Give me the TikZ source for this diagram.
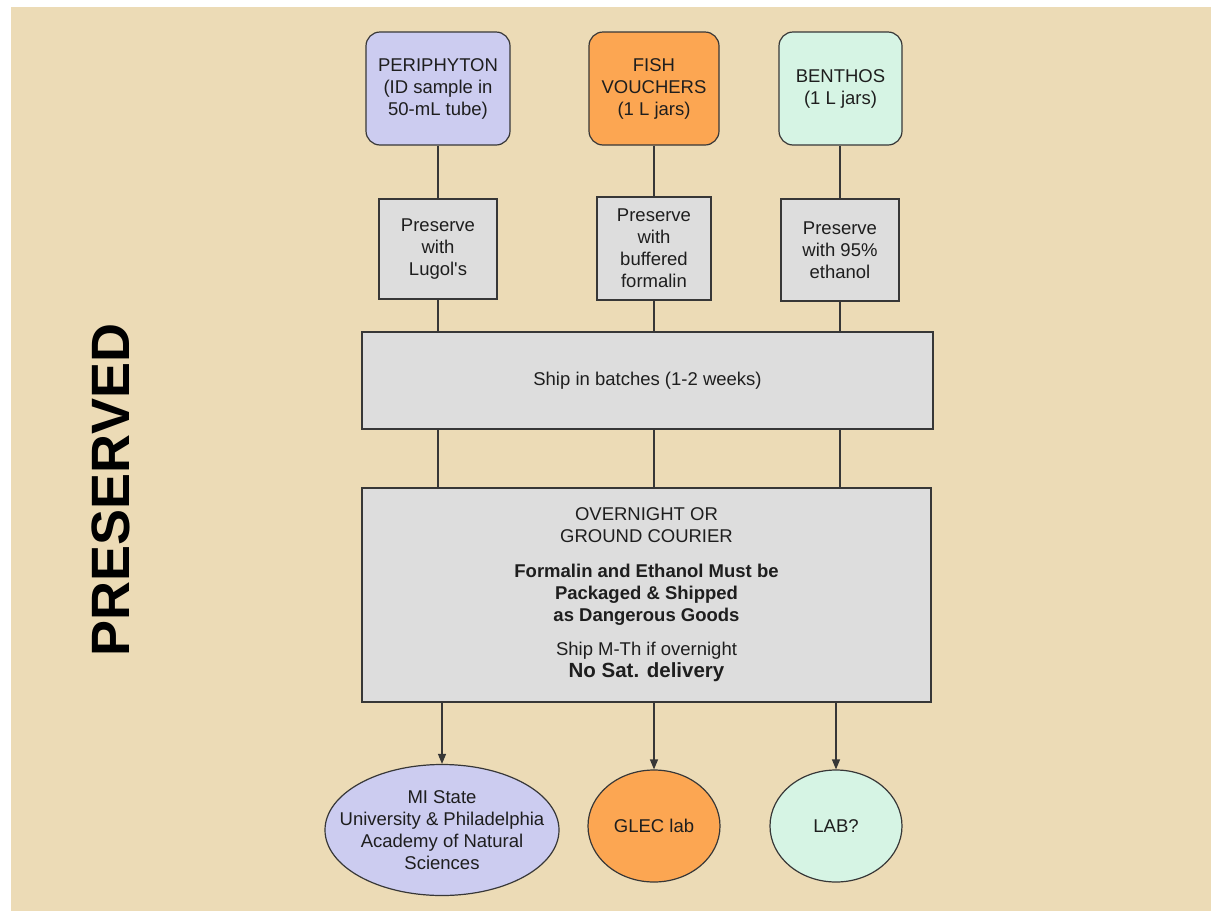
\documentclass[tikz,border=0pt]{standalone}
\usepackage{fontspec}
\setmainfont{Liberation Sans}
\newfontfamily\arialfont{Liberation Sans}
\usetikzlibrary{arrows.meta,shapes.geometric,calc}
\definecolor{bgc}{RGB}{236,219,182}
\definecolor{pericol}{RGB}{204,204,240}
\definecolor{fishcol}{RGB}{252,166,82}
\definecolor{bentcol}{RGB}{214,244,228}
\definecolor{grayfill}{RGB}{221,221,221}
\definecolor{edgecol}{RGB}{55,55,55}
\definecolor{txtcol}{RGB}{30,30,30}
\tikzset{
  base/.style={draw=edgecol, line width=1.2pt, text=txtcol, font=\arialfont\fontsize{18.5}{22}\selectfont, align=center, inner sep=0pt},
  topbox/.style={base, rectangle, rounded corners=14pt},
  prebox/.style={base, rectangle, fill=grayfill},
  labnode/.style={base, ellipse},
  lbl/.style={text=txtcol, font=\arialfont\fontsize{18.5}{22}\selectfont, align=center, inner sep=0pt},
  conn/.style={draw=edgecol, line width=1.2pt},
  arr/.style={conn, -{Triangle[length=10pt,width=8pt]}}
}
\begin{document}
\begin{tikzpicture}[x=1pt,y=-1pt]
\useasboundingbox (0,0) rectangle (1211,911);
\fill[white] (0,0) rectangle (1211,911);
\fill[bgc] (11,7) rectangle (1211,911);

\node[rotate=90, text=black, font=\arialfont\fontsize{54}{60}\selectfont\bfseries, inner sep=0pt] (title) at (111,490) {PRESERVED};

\node[topbox, fill=pericol, minimum width=144pt, minimum height=113pt] (peri) at (438,88.5) {PERIPHYTON\\(ID sample in\\50-mL tube)};
\node[topbox, fill=fishcol, minimum width=130pt, minimum height=113pt] (fish) at (654,88.5) {FISH\\VOUCHERS\\(1 L jars)};
\node[topbox, fill=bentcol, minimum width=123pt, minimum height=113pt] (bent) at (840.5,88.5) {BENTHOS\\(1 L jars)};

\node[prebox, minimum width=118pt, minimum height=100pt] (lug) at (438,249) {Preserve\\with\\Lugol's};
\node[prebox, minimum width=114pt, minimum height=103pt] (form) at (654,248.5) {Preserve\\with\\buffered\\formalin};
\node[prebox, minimum width=118pt, minimum height=102pt] (eth) at (840,250) {Preserve\\with 95\%\\ethanol};

\node[prebox, minimum width=571pt, minimum height=97pt] (ship) at (647.5,380.5) {Ship in batches (1-2 weeks)};

\node[prebox, minimum width=569pt, minimum height=214pt] (cour) at (646.5,595) {OVERNIGHT OR\\GROUND COURIER\\[13pt]\textbf{Formalin and Ethanol Must be}\\\textbf{Packaged \& Shipped}\\\textbf{as Dangerous Goods}\\[12pt]Ship M-Th if overnight\\{\fontsize{20.5}{22}\selectfont\bfseries No Sat. delivery}};

\node[labnode, fill=pericol, minimum width=234pt, minimum height=131pt,
      label={[lbl]center:MI State\\University \& Philadelphia\\Academy of Natural\\Sciences}] (mi) at (442,830) {};
\node[labnode, fill=fishcol, minimum width=132pt, minimum height=112pt,
      label={[lbl]center:GLEC lab}] (glec) at (654,826) {};
\node[labnode, fill=bentcol, minimum width=132pt, minimum height=112pt,
      label={[lbl]center:LAB?}] (lab) at (836,826) {};

% connectors
\draw[conn] (peri.south) -- (peri.south |- lug.north);
\draw[conn] (fish.south) -- (fish.south |- form.north);
\draw[conn] (eth.north) -- (eth.north |- bent.south);

\draw[conn] (lug.south) -- (lug.south |- ship.north);
\draw[conn] (form.south) -- (form.south |- ship.north);
\draw[conn] (eth.south) -- (eth.south |- ship.north);

\draw[conn] (lug.south |- ship.south) -- (lug.south |- cour.north);
\draw[conn] (form.south |- ship.south) -- (form.south |- cour.north);
\draw[conn] (eth.south |- ship.south) -- (eth.south |- cour.north);

\draw[arr] (mi.north |- cour.south) -- (mi.north);
\draw[arr] (glec.north |- cour.south) -- (glec.north);
\draw[arr] (lab.north |- cour.south) -- (lab.north);
\end{tikzpicture}
\end{document}
